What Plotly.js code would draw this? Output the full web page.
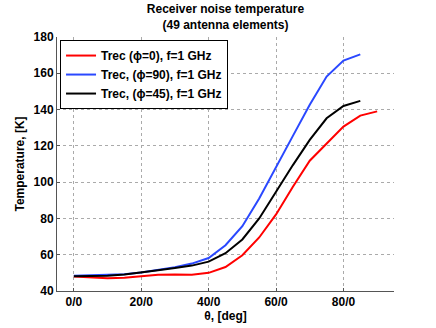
<!DOCTYPE html>
<html><head><meta charset="utf-8">
<script src="https://cdn.plot.ly/plotly-3.0.1.min.js"></script>
<style>html,body{margin:0;padding:0;background:#fff}#c{width:436px;height:328px}</style>
</head><body><div id="c"></div>
<script>
const thetaRed = [0,5,10,15,20,25,30,35,40,45,50,55,60,65,70,75,80,85,90];
const trecPhi0 = [48,47.5,47,47.3,48.2,49,49.1,48.9,50,53.2,59.7,69.5,82.2,97.5,111.8,121.4,130.6,136.7,139];
const thetaBB = [0,5,10,15,20,25,30,35,40,45,50,55,60,65,70,75,80,85];
const trecPhi90 = [48.4,48.6,48.8,49.3,50.2,51.6,53.1,55.1,58.2,65.2,75.7,91,108.5,125.5,142.6,158.2,167,170.4];
const trecPhi45 = [48.1,48.1,48.4,49.1,50.1,51.5,52.7,54,56.2,60.8,68.4,80,94.7,109.4,123.3,135.2,142,144.8];
const seriesNames = ['Trec (\u03d5=0), f=1 GHz','Trec, (\u03d5=90), f=1 GHz','Trec, (\u03d5=45), f=1 GHz'];
const xTickVals = [0,20,40,60,80];
const xTickText = ['0/0','20/0','40/0','60/0','80/0'];
const yTickVals = [40,60,80,100,120,140,160,180];

const F = 'Liberation Sans, Arial, Helvetica, sans-serif';
const traces = [
  {x: thetaRed, y: trecPhi0, name: seriesNames[0], line:{color:'#ff0000', width:2}},
  {x: thetaBB, y: trecPhi90, name: seriesNames[1], line:{color:'#2a48ff', width:2}},
  {x: thetaBB, y: trecPhi45, name: seriesNames[2], line:{color:'#000000', width:2}}
].map(t => Object.assign({type:'scatter', mode:'lines'}, t));

const layout = {
  width:436, height:328,
  margin:{l:57, r:42, t:37, b:37},
  paper_bgcolor:'#fff', plot_bgcolor:'#fff',
  font:{family:F, size:12, color:'#000'},
  title:{text:'<b>Receiver noise temperature</b><br><b>(49 antenna elements)</b>', font:{family:F, size:12, color:'#000'},
         x:0.5, xref:'paper', xanchor:'center', y:1, yref:'paper', yanchor:'bottom', pad:{b:24}},
  showlegend:true,
  legend:{x:0.009, y:0.988, xanchor:'left', yanchor:'top', bgcolor:'#fff', bordercolor:'#000', borderwidth:1,
          font:{family:F, size:12, color:'#000', weight:'bold'}, tracegroupgap:0, itemwidth:30},
  xaxis:{range:[-5,95], tickvals:xTickVals, ticktext:xTickText, showgrid:true, gridcolor:'#aaaaaa', griddash:'dot', gridwidth:1,
         zeroline:false, showline:true, linecolor:'#555', linewidth:1, ticks:'inside', ticklen:3, tickcolor:'#555',
         tickfont:{family:F, size:12, color:'#000', weight:'bold'},
         title:{text:'<b>\u03b8, [deg]</b>', font:{family:F, size:12, color:'#000'}, standoff:0}},
  yaxis:{range:[40,180], tickvals:yTickVals, showgrid:true, gridcolor:'#aaaaaa', griddash:'dot', gridwidth:1,
         zeroline:false, showline:true, linecolor:'#555', linewidth:1, ticks:'inside', ticklen:3, tickcolor:'#555',
         tickfont:{family:F, size:12, color:'#000', weight:'bold'},
         title:{text:'<b>Temperature, [K]</b>', font:{family:F, size:12, color:'#000'}, standoff:6}}
};
Plotly.newPlot('c', traces, layout, {staticPlot:true, displayModeBar:false});
</script></body></html>
